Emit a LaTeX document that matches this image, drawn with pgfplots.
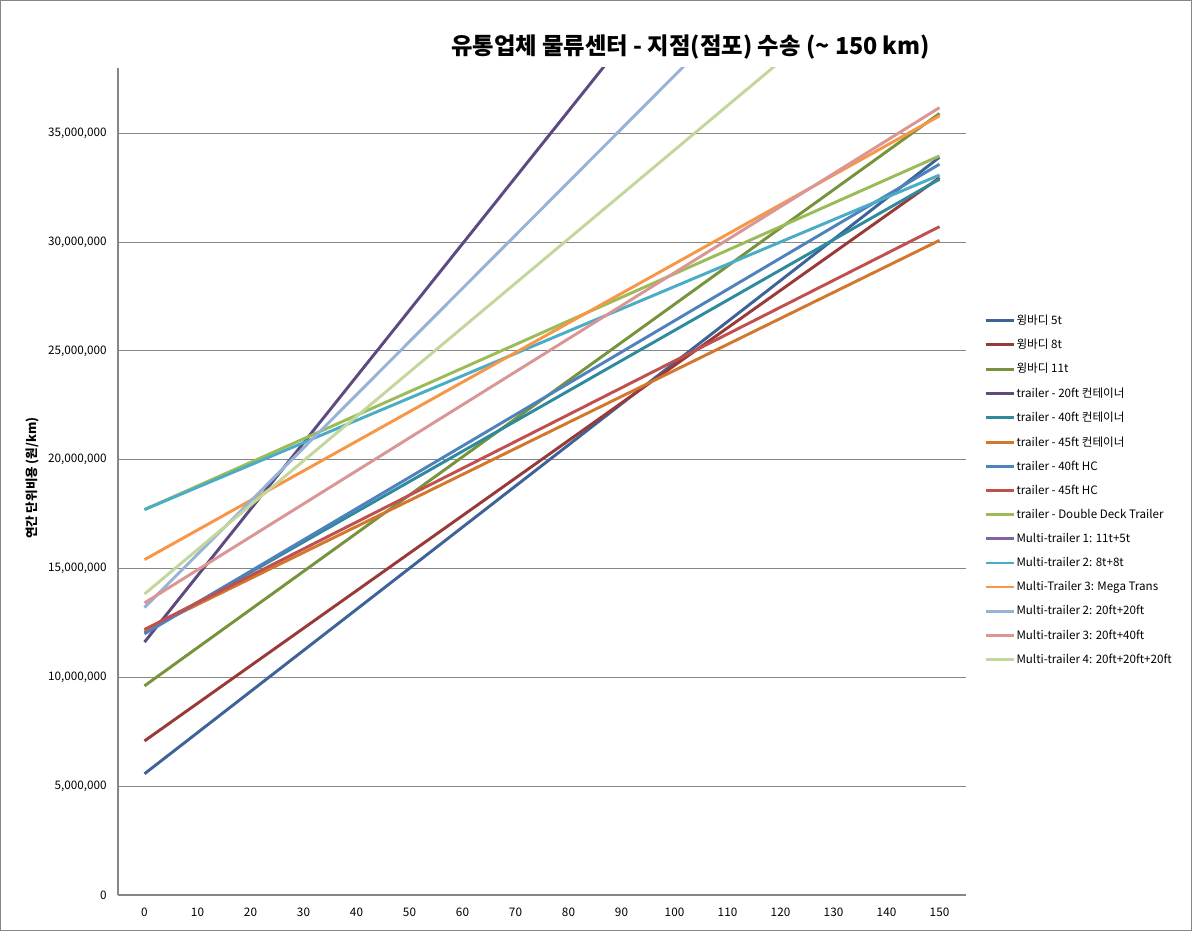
\documentclass[border=0pt]{standalone}
\usepackage{pgfplots}
\pgfplotsset{compat=1.18}
\usepackage{fontspec}
\setmainfont{Noto Sans CJK KR}
\definecolor{c5t}{HTML}{3D6399}
\definecolor{c8t}{HTML}{9A3A38}
\definecolor{c11t}{HTML}{77933C}
\definecolor{c20ft}{HTML}{5E4A7F}
\definecolor{c40ft}{HTML}{2F8A9E}
\definecolor{c45ft}{HTML}{D2772E}
\definecolor{c40hc}{HTML}{4F81BD}
\definecolor{c45hc}{HTML}{C0504D}
\definecolor{cddt}{HTML}{9BBB59}
\definecolor{cmt1}{HTML}{8064A2}
\definecolor{cmt2}{HTML}{4BACC6}
\definecolor{cmt3}{HTML}{F79646}
\definecolor{cmt22}{HTML}{95B3D7}
\definecolor{cmt24}{HTML}{D99694}
\definecolor{cmt222}{HTML}{C3D69B}
\definecolor{gridgray}{HTML}{868686}
\begin{document}
\begin{tikzpicture}
\useasboundingbox (0,0) rectangle (894pt,698.25pt);
\draw[gridgray, line width=0.8pt] (0.4pt,0.4pt) rectangle (893.6pt,697.85pt);
\node[font=\bfseries\fontsize{17.5}{19}\selectfont] at (518pt,663pt) {유통업체 물류센터 - 지점(점포) 수송 (\textasciitilde{} 150 km)};
\begin{axis}[
  at={(88.5pt,27pt)}, anchor=south west,
  scale only axis, width=636pt, height=620.25pt,
  xmin=-5, xmax=155, ymin=0, ymax=38000000,
  axis lines=left, axis line style={draw=gridgray, line width=0.8pt, -},
  xtick={0,10,...,150},
  ytick={0,5000000,10000000,15000000,20000000,25000000,30000000,35000000},
  scaled y ticks=false,
  /pgf/number format/assume math mode=true,
  yticklabel style={/pgf/number format/fixed, /pgf/number format/1000 sep={,}, xshift=-5pt},
  xticklabel style={yshift=-6.5pt},
  tick label style={font=\fontsize{8.8}{10}\selectfont},
  major tick length=0pt,
  ymajorgrids, grid style={draw=gridgray, line width=0.8pt},
  ylabel={\bfseries 연간 단위비용 (원/km)},
  ylabel style={at={(axis description cs:-0.1014,0.504)}, anchor=center, font=\fontsize{9.4}{10}\selectfont},
  clip=true,
  every axis plot/.append style={line width=2.2pt},
  legend cell align=left,
  legend style={at={(axis description cs:1.0165,0.707)}, anchor=north west, draw=none, fill=none,
    font=\fontsize{8.7}{10}\selectfont, row sep=7.6pt,
    nodes={inner sep=1pt}},
  legend image code/.code={\draw[#1] (0pt,0pt) -- (21pt,0pt);},
]
\addplot[c5t] coordinates {(0,5570000) (150,33900000)};
\addlegendentry{윙바디 5t}
\addplot[c8t] coordinates {(0,7080000) (150,32960000)};
\addlegendentry{윙바디 8t}
\addplot[c11t] coordinates {(0,9610000) (150,35910000)};
\addlegendentry{윙바디 11t}
\addplot[c20ft] coordinates {(0,11620000) (150,57380000)};
\addlegendentry{trailer - 20ft 컨테이너}
\addplot[c40ft] coordinates {(0,12050000) (150,32890000)};
\addlegendentry{trailer - 40ft 컨테이너}
\addplot[c45ft] coordinates {(0,12150000) (150,30080000)};
\addlegendentry{trailer - 45ft 컨테이너}
\addplot[c40hc] coordinates {(0,12000000) (150,33580000)};
\addlegendentry{trailer - 40ft HC}
\addplot[c45hc] coordinates {(0,12200000) (150,30710000)};
\addlegendentry{trailer - 45ft HC}
\addplot[cddt] coordinates {(0,17710000) (150,33960000)};
\addlegendentry{trailer - Double Deck Trailer}
\addlegendimage{cmt1, line width=2.2pt}
\addlegendentry{Multi-trailer 1: 11t+5t}
\addplot[cmt2] coordinates {(0,17710000) (150,33080000)};
\addlegendentry{Multi-trailer 2: 8t+8t}
\addplot[cmt3] coordinates {(0,15410000) (150,35800000)};
\addlegendentry{Multi-Trailer 3: Mega Trans}
\addplot[cmt22] coordinates {(0,13210000) (150,49870000)};
\addlegendentry{Multi-trailer 2: 20ft+20ft}
\addplot[cmt24] coordinates {(0,13420000) (150,36180000)};
\addlegendentry{Multi-trailer 3: 20ft+40ft}
\addplot[cmt222] coordinates {(0,13830000) (150,44430000)};
\addlegendentry{Multi-trailer 4: 20ft+20ft+20ft}
\end{axis}
\end{tikzpicture}
\end{document}
